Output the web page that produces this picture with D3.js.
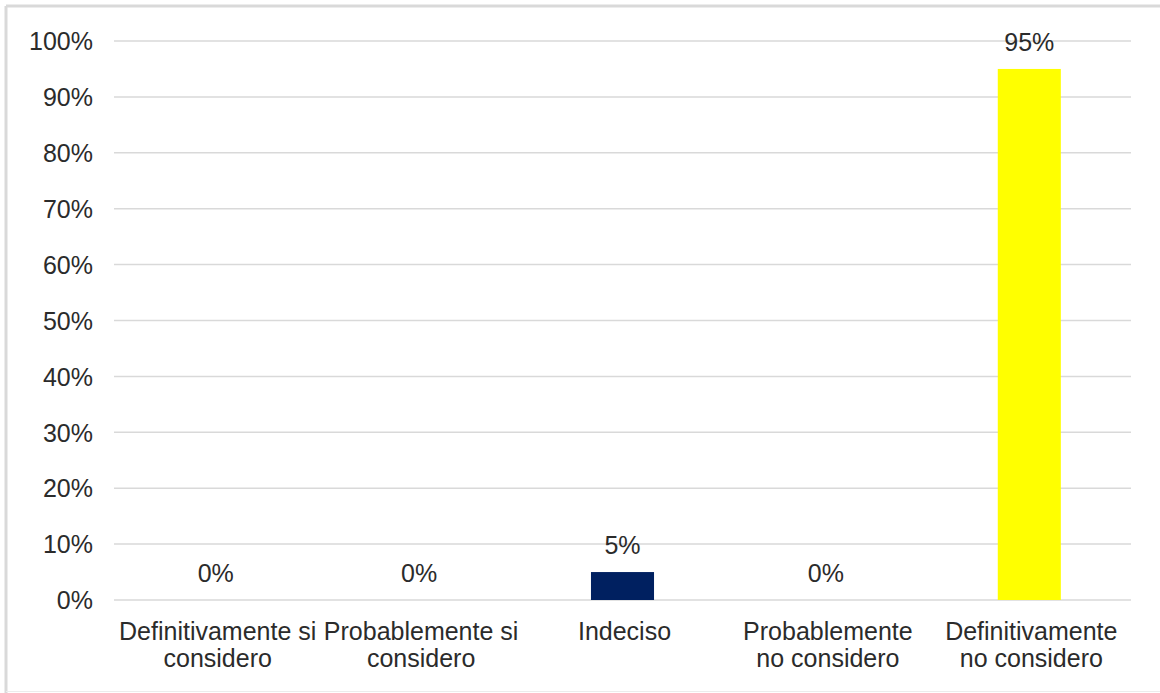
<!DOCTYPE html>
<html>
<head>
<meta charset="utf-8">
<script src="https://cdn.jsdelivr.net/npm/d3@7"></script>
<style>
  html, body { margin: 0; padding: 0; background: #fff; }
  svg { display: block; }
  text { font-family: "Liberation Sans", Arial, sans-serif; fill: #2b2b2b; }
</style>
</head>
<body>
<svg id="chart" width="1160" height="693"></svg>
<script>
// Survey answers and their shares
const categories = [
  ["Definitivamente si", "considero"],
  ["Probablemente si", "considero"],
  ["Indeciso"],
  ["Probablemente", "no considero"],
  ["Definitivamente", "no considero"]
];
const values = [0, 0, 0.05, 0, 0.95];
const barColors = ["#002060", "#002060", "#002060", "#002060", "#FFFF00"];
const tickValues = [0, 0.1, 0.2, 0.3, 0.4, 0.5, 0.6, 0.7, 0.8, 0.9, 1.0];

const svg = d3.select("#chart");
const W = 1160, H = 693;
const plot = { left: 114, right: 1131, top: 41, bottom: 600 };
const FS = 25;

// outer frame
svg.append("line").attr("x1", 6).attr("x2", W).attr("y1", 6).attr("y2", 6)
  .attr("stroke", "#d9d9d9").attr("stroke-width", 3);
svg.append("line").attr("x1", 6).attr("x2", 6).attr("y1", 6).attr("y2", H)
  .attr("stroke", "#d9d9d9").attr("stroke-width", 3);
svg.append("line").attr("x1", 6).attr("x2", W).attr("y1", 691.5).attr("y2", 691.5)
  .attr("stroke", "#ececec").attr("stroke-width", 1);

const idx = d3.range(categories.length);
const x = d3.scaleBand().domain(idx).range([plot.left, plot.right]).paddingInner(0.69).paddingOuter(0.345);
const xc = d3.scaleBand().domain(idx).range([plot.left, plot.right]);
const y = d3.scaleLinear().domain([0, 1]).range([plot.bottom, plot.top]);

// gridlines
svg.append("g").selectAll("line").data(tickValues).join("line")
  .attr("x1", plot.left).attr("x2", plot.right)
  .attr("y1", d => y(d)).attr("y2", d => y(d))
  .attr("stroke", "#d9d9d9").attr("stroke-width", 1.5);

// y axis labels
const yAxis = d3.axisLeft(y).tickValues(tickValues).tickFormat(d3.format(".0%")).tickSize(0).tickPadding(0);
const yg = svg.append("g").attr("transform", `translate(${93},0)`).call(yAxis);
yg.select(".domain").remove();
yg.selectAll("text").attr("font-size", FS).attr("fill", "#2b2b2b")
  .attr("font-family", "Liberation Sans, Arial, sans-serif")
  .attr("dy", "0.35em");

// bars
svg.append("g").selectAll("rect").data(values).join("rect")
  .attr("x", (d, i) => x(i)).attr("width", x.bandwidth())
  .attr("y", d => y(d)).attr("height", d => y(0) - y(d))
  .attr("fill", (d, i) => barColors[i]);

// value labels
svg.append("g").selectAll("text").data(values).join("text")
  .attr("x", (d, i) => xc(i) + xc.bandwidth() / 2)
  .attr("y", d => y(d) - 18)
  .attr("text-anchor", "middle").attr("font-size", FS)
  .text(d => d3.format(".0%")(d));

// category labels
const cg = svg.append("g").selectAll("text").data(categories).join("text")
  .attr("text-anchor", "middle").attr("font-size", FS)
  .attr("transform", (d, i) => `translate(${xc(i) + xc.bandwidth() / 2 + 2},640)`);
cg.selectAll("tspan").data(d => d).join("tspan")
  .attr("x", 0).attr("dy", (d, j) => j === 0 ? 0 : 27)
  .text(d => d);
</script>
</body>
</html>
